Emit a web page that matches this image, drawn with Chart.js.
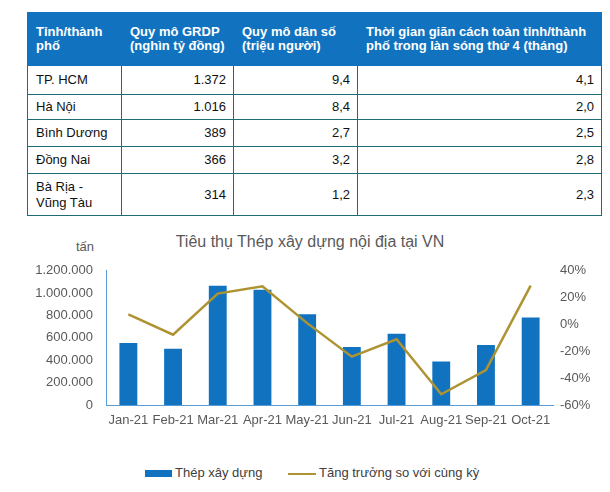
<!DOCTYPE html>
<html>
<head>
<meta charset="utf-8">
<script src="https://cdn.jsdelivr.net/npm/chart.js"></script>
<style>
  body { margin: 0; background: #fff; font-family: "Liberation Sans", Arial, sans-serif; }
  #wrap { position: relative; width: 610px; height: 492px; overflow: hidden; }
  table { position: absolute; left: 27px; top: 12px; border-collapse: collapse; font-size: 13px; color: #111; }
  th { background: #1173c0; color: #fff; font-weight: bold; text-align: left; vertical-align: middle;
       padding: 0 8px; line-height: 14px; height: 53px; border: 1px solid #1173c0; box-sizing: border-box; }
  td { border: 1px solid #1d6b77; padding: 0 7px 0 8px; line-height: 16px; }
  td.n { text-align: right; }
  #unit { position: absolute; left: 76px; top: 239px; font-size: 13px; color: #595959; }
  #title { position: absolute; left: 0; width: 620px; top: 233px; text-align: center; font-size: 16px; color: #595959; }
  #chartBox { position: absolute; left: 0; top: 250px; width: 610px; height: 188px; }
  #legend { position: absolute; top: 465px; left: 0; width: 610px; font-size: 13px; color: #404040; }
  .lg { position: absolute; top: 0; white-space: nowrap; }
  .sw { display: inline-block; vertical-align: middle; margin-right: 3px; }
</style>
</head>
<body>
<div id="wrap">
  <table id="tbl"></table>
  <div id="unit">tấn</div>
  <div id="title">Tiêu thụ Thép xây dựng nội địa tại VN</div>
  <div id="chartBox"><canvas id="c"></canvas></div>
  <div id="legend">
    <span class="lg" style="left:145px"><span class="sw" style="width:27px;height:7px;background:#1173c0"></span>Thép xây dựng</span>
    <span class="lg" style="left:288px"><span class="sw" style="width:28px;height:2px;background:#ae9332"></span>Tăng trưởng so với cùng kỳ</span>
  </div>
</div>
<script>
// table data
var tableHeaders = ['Tỉnh/thành<br>phố', 'Quy mô GRDP<br>(nghìn tỷ đồng)', 'Quy mô dân số<br>(triệu người)', 'Thời gian giãn cách toàn tỉnh/thành<br>phố trong làn sóng thứ 4 (tháng)'];
var provinces = ['TP. HCM', 'Hà Nội', 'Bình Dương', 'Đồng Nai', 'Bà Rịa -<br>Vũng Tàu'];
var grdp = ['1.372', '1.016', '389', '366', '314'];
var population = ['9,4', '8,4', '2,7', '3,2', '1,2'];
var lockdownMonths = ['4,1', '2,0', '2,5', '2,8', '2,3'];

// chart data
var months = ['Jan-21', 'Feb-21', 'Mar-21', 'Apr-21', 'May-21', 'Jun-21', 'Jul-21', 'Aug-21', 'Sep-21', 'Oct-21'];
var steelTons = [554000, 502000, 1066000, 1031000, 812000, 519000, 637000, 388000, 537000, 782000];
var yoyGrowth = [7.6, -7.6, 23, 28.5, 1, -24, -11, -52, -34, 29];

var colWidths = [94, 112, 124, 244];
var rowHeights = [29, 25, 27, 27, 42];

var tbl = document.getElementById('tbl');
var html = '<tr>';
tableHeaders.forEach(function(h, i) {
  html += '<th style="width:' + colWidths[i] + 'px">' + h + '</th>';
});
html += '</tr>';
provinces.forEach(function(p, i) {
  html += '<tr style="height:' + rowHeights[i] + 'px"><td>' + p + '</td><td class="n">' + grdp[i] +
    '</td><td class="n">' + population[i] + '</td><td class="n">' + lockdownMonths[i] + '</td></tr>';
});
tbl.innerHTML = html;

var tickFont = { family: 'Liberation Sans', size: 13 };

new Chart(document.getElementById('c'), {
  data: {
    labels: months,
    datasets: [
      {
        type: 'line',
        label: 'Tăng trưởng so với cùng kỳ',
        data: yoyGrowth,
        yAxisID: 'y2',
        borderColor: '#ae9332',
        borderWidth: 2.5,
        pointRadius: 0,
        tension: 0,
        order: 0
      },
      {
        type: 'bar',
        label: 'Thép xây dựng',
        data: steelTons,
        yAxisID: 'y',
        backgroundColor: '#1173c0',
        barPercentage: 0.4,
        categoryPercentage: 1,
        order: 1
      }
    ]
  },
  options: {
    responsive: true,
    maintainAspectRatio: false,
    animation: false,
    layout: { padding: { top: 4, left: 0, right: 0, bottom: 0 } },
    plugins: {
      legend: { display: false },
      tooltip: { enabled: false }
    },
    scales: {
      x: {
        grid: { display: false, drawTicks: false },
        border: { color: '#5b9bd5', width: 1 },
        ticks: { color: '#595959', font: tickFont, padding: 8, maxRotation: 0, autoSkip: false },
        afterFit: function(s) { s.height = 33; }
      },
      y: {
        position: 'left',
        min: 0, max: 1200000,
        grid: { display: false, drawTicks: false },
        border: { color: '#5b9bd5', width: 1 },
        ticks: {
          stepSize: 200000, color: '#595959', font: tickFont, padding: 13,
          callback: function(v) { return v.toString().replace(/\B(?=(\d{3})+(?!\d))/g, '.'); }
        },
        afterFit: function(s) { s.width = 106; }
      },
      y2: {
        position: 'right',
        min: -60, max: 40,
        grid: { display: false, drawTicks: false },
        border: { display: false },
        ticks: {
          stepSize: 20, color: '#595959', font: tickFont, padding: 7,
          callback: function(v) { return v + '%'; }
        },
        afterFit: function(s) { s.width = 57; }
      }
    }
  }
});
</script>
</body>
</html>
